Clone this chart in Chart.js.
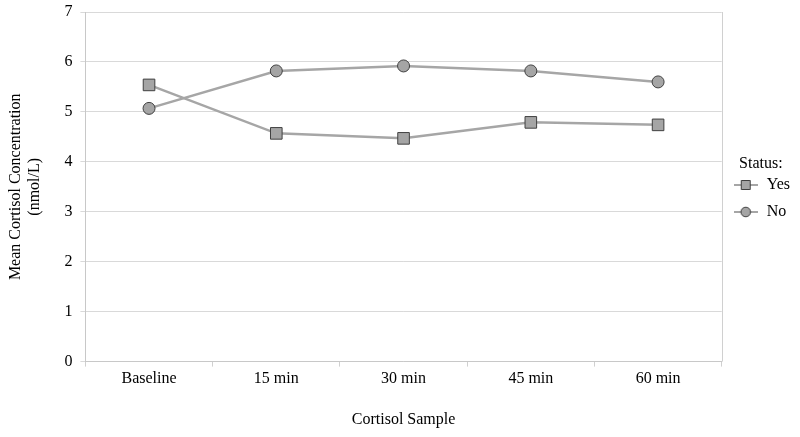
<!DOCTYPE html>
<html>
<head>
<meta charset="utf-8">
<script src="https://cdn.jsdelivr.net/npm/chart.js@4.4.0/dist/chart.umd.min.js"></script>
<style>
  body { margin: 0; background: #fff; }
  #wrap { width: 800px; height: 437px; }
</style>
</head>
<body>
<div id="wrap"><canvas id="line-chart" width="800" height="437"></canvas></div>
<script>
var samples = ["Baseline", "15 min", "30 min", "45 min", "60 min"];
var yesValues = [5.54, 4.57, 4.47, 4.79, 4.74];
var noValues = [5.07, 5.82, 5.92, 5.82, 5.60];

var lineColor = "#a6a6a6";
var markFill = "#a5a5a5";
var markEdge = "#404040";

// legend swatch: short line with the marker on it
function legendIcon(shape) {
    var c = document.createElement("canvas");
    c.width = 24;
    c.height = 14;
    var ctx = c.getContext("2d");
    ctx.strokeStyle = lineColor;
    ctx.lineWidth = 2;
    ctx.beginPath();
    ctx.moveTo(0, 7);
    ctx.lineTo(24, 7);
    ctx.stroke();
    ctx.fillStyle = markFill;
    ctx.strokeStyle = markEdge;
    ctx.lineWidth = 1;
    ctx.beginPath();
    if (shape === "rect") {
        ctx.rect(7.5, 2.5, 9, 9);
    } else {
        ctx.arc(12, 7, 4.8, 0, Math.PI * 2);
    }
    ctx.fill();
    ctx.stroke();
    return c;
}

var serif = "'Liberation Serif', 'Times New Roman', serif";

new Chart(document.getElementById("line-chart"), {
    type: "line",
    data: {
        labels: samples,
        datasets: [{
            label: "Yes",
            data: yesValues,
            borderColor: lineColor,
            borderWidth: 2.5,
            pointStyle: "rect",
            pointRadius: 8.2,
            pointBackgroundColor: markFill,
            pointBorderColor: markEdge,
            pointBorderWidth: 1,
            fill: false,
            tension: 0
        }, {
            label: "No",
            data: noValues,
            borderColor: lineColor,
            borderWidth: 2.5,
            pointStyle: "circle",
            pointRadius: 6,
            pointBackgroundColor: markFill,
            pointBorderColor: markEdge,
            pointBorderWidth: 1,
            fill: false,
            tension: 0
        }]
    },
    options: {
        responsive: false,
        animation: false,
        layout: { padding: { left: 6, right: 0, top: 0, bottom: 8 } },
        plugins: {
            tooltip: { enabled: false },
            legend: {
                position: "right",
                align: "start",
                title: {
                    display: true,
                    text: "Status:",
                    color: "#000",
                    font: { family: serif, size: 16, lineHeight: 1.0 },
                    padding: { top: 156, bottom: -6 }
                },
                labels: {
                    color: "#000",
                    font: { family: serif, size: 16 },
                    usePointStyle: true,
                    pointStyleWidth: 26,
                    padding: 11,
                    generateLabels: function(chart) {
                        return chart.data.datasets.map(function(ds, i) {
                            return {
                                text: ds.label,
                                datasetIndex: i,
                                pointStyle: legendIcon(i === 0 ? "rect" : "circle"),
                                fillStyle: markFill,
                                strokeStyle: markEdge,
                                lineWidth: 0,
                                fontColor: "#000"
                            };
                        });
                    }
                }
            }
        },
        scales: {
            x: {
                offset: true,
                grid: {
                    display: true,
                    drawOnChartArea: false,
                    offset: true,
                    color: "#d0d0d0",
                    tickLength: 5
                },
                border: { color: "#c8c8c8", width: 1 },
                ticks: {
                    color: "#000",
                    font: { family: serif, size: 16 },
                    padding: 3
                },
                title: {
                    display: true,
                    text: "Cortisol Sample",
                    color: "#000",
                    font: { family: serif, size: 16 },
                    padding: { top: 18, bottom: 0 }
                }
            },
            y: {
                min: 0,
                max: 7,
                ticks: {
                    stepSize: 1,
                    color: "#000",
                    font: { family: serif, size: 16, lineHeight: 0.5 },
                    padding: 8
                },
                grid: {
                    color: "#d9d9d9",
                    tickLength: 5
                },
                border: { color: "#c8c8c8", width: 1 },
                title: {
                    display: true,
                    text: ["Mean Cortisol Concentration", "(nmol/L)"],
                    color: "#000",
                    font: { family: serif, size: 16, lineHeight: 1.2 },
                    padding: { top: 0, bottom: 12 }
                }
            }
        }
    },
    plugins: [{
        // right-hand border of the plot area
        id: "rightEdge",
        afterDraw: function(chart) {
            var a = chart.chartArea;
            var ctx = chart.ctx;
            ctx.save();
            ctx.strokeStyle = "#d0d0d0";
            ctx.lineWidth = 1;
            ctx.beginPath();
            ctx.moveTo(Math.round(a.right) + 0.5, a.top);
            ctx.lineTo(Math.round(a.right) + 0.5, a.bottom);
            ctx.stroke();
            ctx.restore();
        }
    }]
});
</script>
</body>
</html>
